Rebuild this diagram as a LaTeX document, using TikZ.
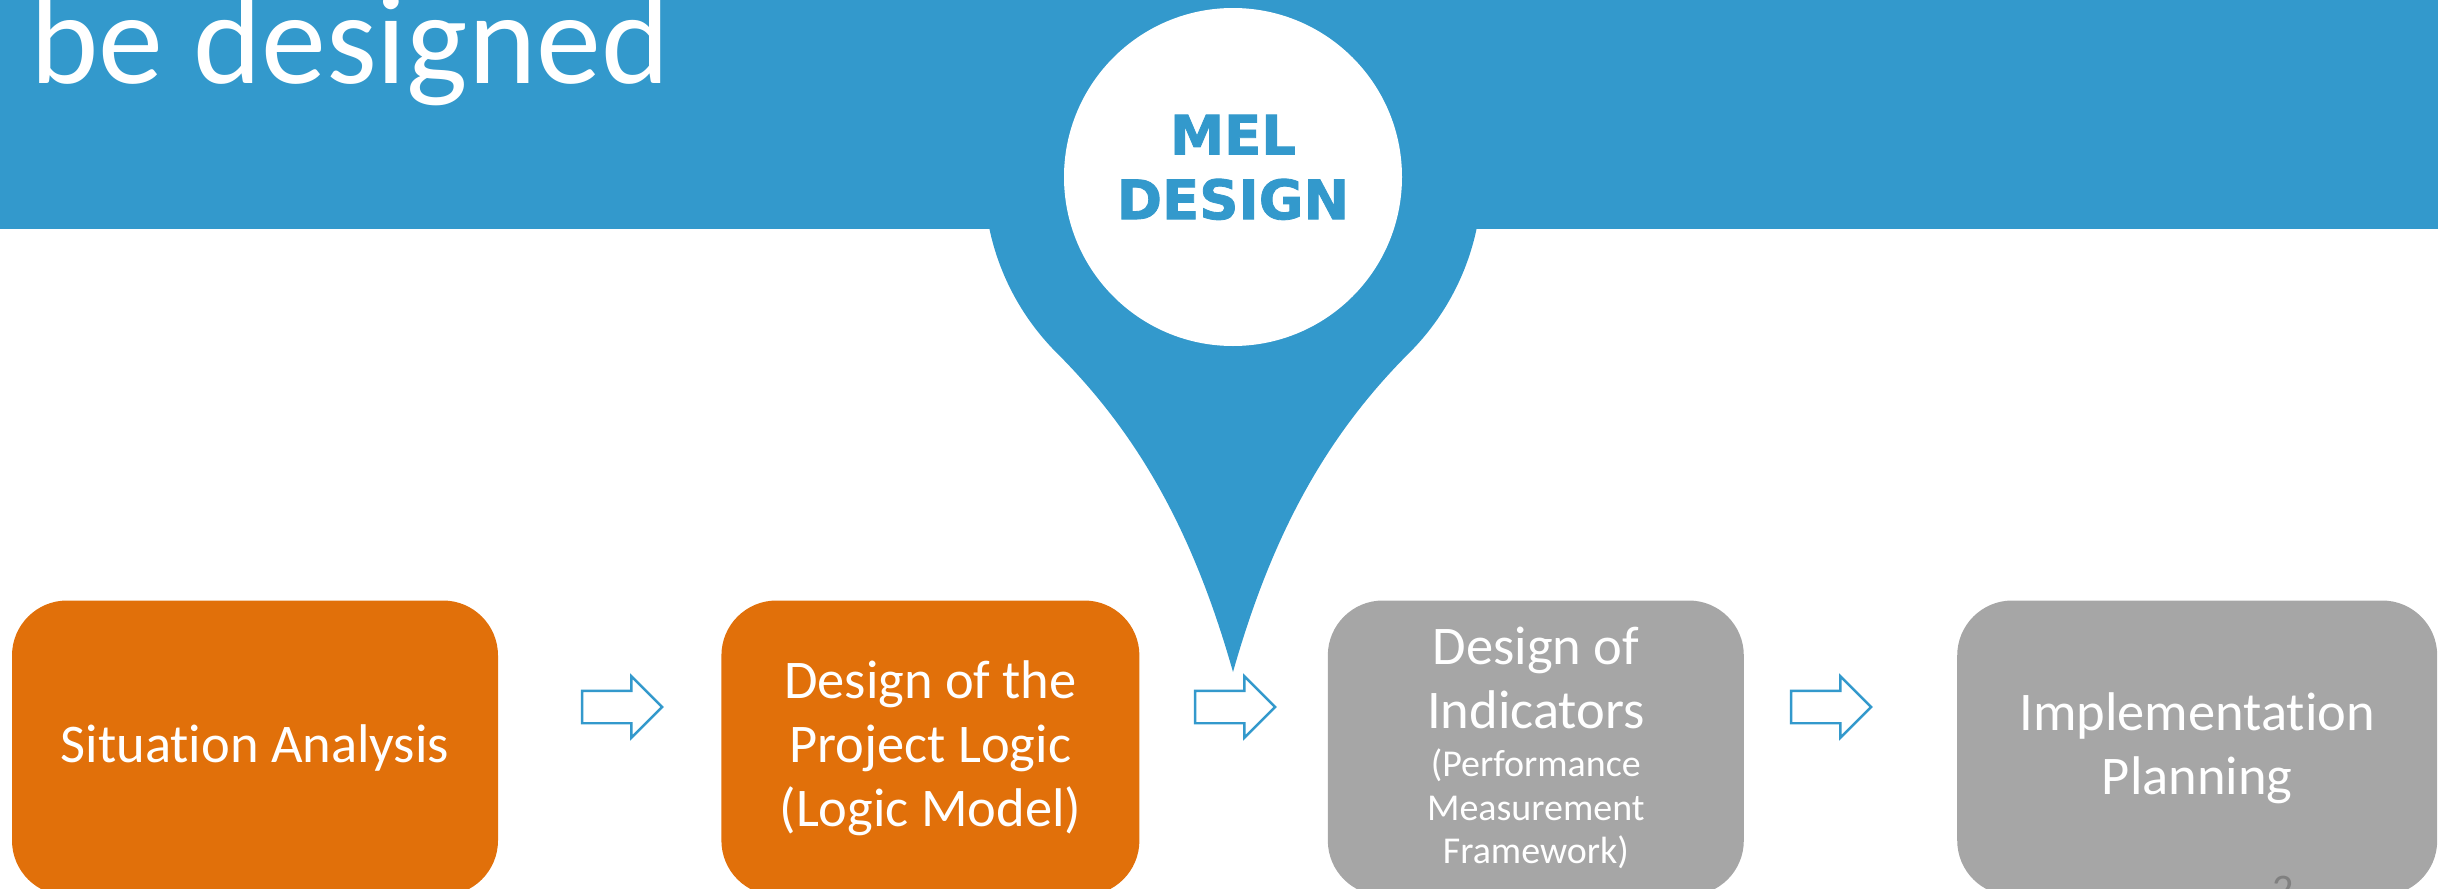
\documentclass[tikz,border=0pt]{standalone}
\usepackage{fontspec}
\setmainfont{Carlito}[Ligatures={NoCommon}]
\newfontfamily\pinfont{DejaVu Sans}[BoldFeatures={FakeBold=1.5}]
\usepackage{tikz}
\usetikzlibrary{shapes,arrows,positioning,calc}
\definecolor{melblue}{RGB}{51,153,204}
\definecolor{melorange}{RGB}{225,112,10}
\definecolor{melgray}{RGB}{166,166,166}
\definecolor{pagegray}{RGB}{128,128,128}
\newcommand{\subline}{\fontsize{10.8}{12.4}\selectfont}
\tikzset{
    stage/.style={rectangle, rounded corners=0.55cm, text=white, align=center, minimum height=2.95cm, inner sep=0pt, font=\fontsize{15.5}{18.2}\selectfont},
    done/.style={stage, fill=melorange},
    todo/.style={stage, fill=melgray},
    flow/.style={single arrow, draw=melblue, fill=white, line width=0.7pt, minimum height=0.8cm, text height=0.15cm, text depth=0.15cm, inner sep=0pt, single arrow head extend=0.145cm},
    pin/.style={circle, fill=white, minimum size=3.38cm, inner sep=0pt, text=melblue, align=center, text depth=0.2cm, font=\pinfont\bfseries\fontsize{15.5}{18.4}\selectfont}
}

\begin{document}
\begin{tikzpicture}
    \useasboundingbox (0,0) rectangle (24.38,8.88);
    \clip (0,0) rectangle (24.38,8.88);

    % Title bar
    \fill [melblue] (0,6.59) rectangle (24.38,8.88);
    \node [anchor=base west, inner sep=0pt, text=white, font=\fontsize{37}{40}\selectfont] (title) at (0.30,8.05) {be designed};

    % Pin
    \coordinate (pinc) at (12.33,7.11);
    \coordinate (tip) at (12.33,2.16);
    \fill [melblue] (tip) .. controls (11.95,3.5) and (11.42,4.5) .. ($(pinc)+(225:2.49)$)
        arc [start angle=225, end angle=-45, radius=2.49]
        .. controls (13.24,4.5) and (12.71,3.5) .. (tip) -- cycle;
    \node [pin] (mel) at (pinc) {MEL\\DESIGN};

    % Stages
    \node [done, minimum width=4.86cm] (situation) at (2.55,1.40) {Situation Analysis};
    \node [done, minimum width=4.18cm, right=2.22cm of situation] (logic) {Design of the\\Project Logic\\(Logic Model)};
    \node [todo, minimum width=4.16cm, right=1.87cm of logic] (indicators) {Design of\\Indicators\\[-4.5pt]{\subline (Performance}\\[-5.8pt]{\subline Measurement}\\[-5.8pt]{\subline Framework)}};
    \node [todo, minimum width=4.80cm, right=2.12cm of indicators] (planning) {Implementation\\Planning};

    % Flow arrows
    \node [flow] (a1) at (6.14,1.81) {};
    \node [flow] (a2) at (12.27,1.81) {};
    \node [flow] (a3) at (18.23,1.81) {};

    \node [anchor=north, inner sep=0pt, text=pagegray, font=\fontsize{12}{14}\selectfont] (slideno) at (22.83,0.13) {2};
\end{tikzpicture}
\end{document}
